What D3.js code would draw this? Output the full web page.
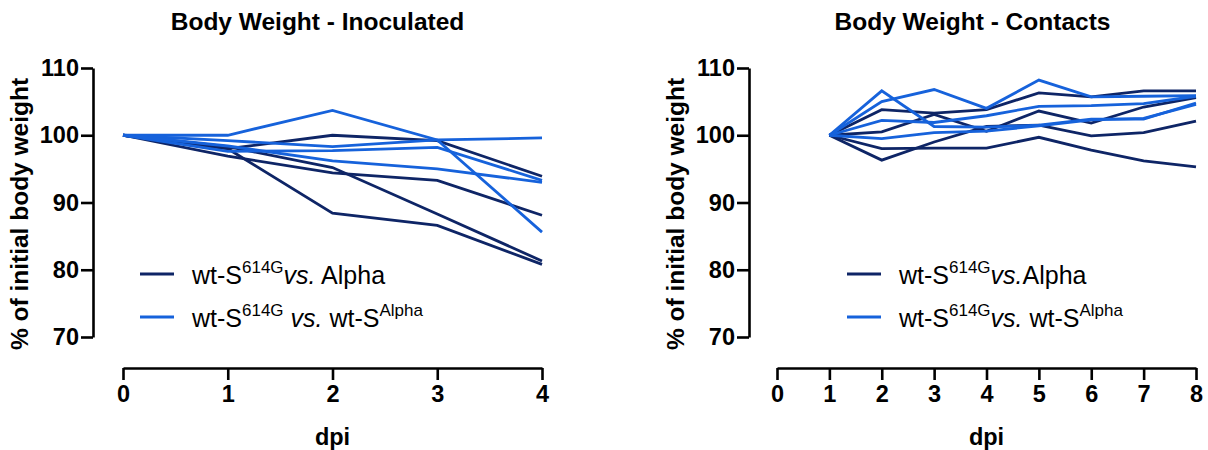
<!DOCTYPE html>
<html>
<head>
<meta charset="utf-8">
<script src="https://cdn.jsdelivr.net/npm/d3@7"></script>
<style>
  body { margin: 0; background: #fff; }
  text { font-family: "Liberation Sans", Arial, sans-serif; fill: #000; }
  .axis path, .axis line { stroke: #000; stroke-width: 2.6; }
  .axis text { font-size: 23.5px; font-weight: bold; }
</style>
</head>
<body>
<div id="chart"></div>
<script>
// Data (% of initial body weight)
const inocDays = [0, 1, 2, 3, 4];
const inocAlpha = [            // wt-S614G vs. Alpha
    [100, 98.0, 100.0, 99.2, 93.9],
    [100, 96.9, 94.4, 93.3, 88.1],
    [100, 98.3, 95.2, 88.3, 81.3],
    [100, 98.0, 88.4, 86.6, 80.8]
];
const inocWtAlpha = [          // wt-S614G vs. wt-SAlpha
    [100, 100.0, 103.7, 99.3, 85.6],
    [100, 99.2, 98.3, 99.3, 99.6],
    [100, 97.6, 97.7, 98.2, 93.3],
    [100, 98.4, 96.2, 95.0, 93.0]
];

const contDays = [1, 2, 3, 4, 5, 6, 7, 8];
const contAlpha = [
    [100, 103.8, 103.3, 103.8, 106.3, 105.7, 106.6, 106.6],
    [100, 100.5, 103.1, 100.6, 103.6, 101.8, 104.2, 105.6],
    [100, 96.3, 99.0, 101.3, 101.5, 99.9, 100.4, 102.1],
    [100, 98.0, 98.1, 98.1, 99.7, 97.8, 96.2, 95.3]
];
const contWtAlpha = [
    [100, 106.6, 101.3, 101.2, 101.5, 102.4, 102.4, 104.8],
    [100, 105.0, 106.8, 104.0, 108.2, 105.7, 105.8, 105.9],
    [100, 102.2, 101.9, 102.9, 104.3, 104.4, 104.7, 105.8],
    [100, 99.5, 100.4, 100.6, 101.4, 102.3, 102.5, 104.6]
];

const yTicks = [70, 80, 90, 100, 110];
const inocXTicks = [0, 1, 2, 3, 4];
const contXTicks = [0, 1, 2, 3, 4, 5, 6, 7, 8];

const darkBlue = "#0e2566";
const lightBlue = "#1662db";

const svg = d3.select("#chart").append("svg")
    .attr("width", 1208)
    .attr("height", 450);

function drawPanel(opts) {
    const g = svg.append("g");

    const x = d3.scaleLinear().domain(d3.extent(opts.xTicks)).range([opts.x0, opts.x1]);
    const y = d3.scaleLinear().domain([70, 110]).range([337, 68]);

    // y axis (offset Prism style)
    g.append("g")
        .attr("class", "axis")
        .attr("transform", `translate(${opts.yAxisX},0)`)
        .call(d3.axisLeft(y).tickValues(yTicks).tickSize(12).tickSizeOuter(0).tickPadding(2));

    // x axis below the plot
    g.append("g")
        .attr("class", "axis")
        .attr("transform", "translate(0,368)")
        .call(d3.axisBottom(x).tickValues(opts.xTicks).tickFormat(d3.format("d"))
            .tickSize(12).tickSizeOuter(0).tickPadding(5));

    const line = d3.line()
        .x((d, i) => x(opts.days[i]))
        .y(d => y(d));

    const groups = [
        { data: opts.dark, color: darkBlue },
        { data: opts.light, color: lightBlue }
    ];
    groups.forEach(gr => {
        g.selectAll(null)
            .data(gr.data)
            .enter().append("path")
            .attr("d", line)
            .attr("fill", "none")
            .attr("stroke", gr.color)
            .attr("stroke-width", 2.8)
            .attr("stroke-linejoin", "miter");
    });

    // title
    g.append("text")
        .attr("x", (opts.yAxisX + opts.x1) / 2)
        .attr("y", 30)
        .attr("text-anchor", "middle")
        .style("font-size", "24.5px")
        .style("font-weight", "bold")
        .text(opts.title);

    // axis titles
    g.append("text")
        .attr("transform", `translate(${opts.yLabelX},214) rotate(-90)`)
        .attr("text-anchor", "middle")
        .style("font-size", "24.5px")
        .style("font-weight", "bold")
        .text("% of initial body weight");

    g.append("text")
        .attr("x", (opts.x0 + opts.x1) / 2)
        .attr("y", 445)
        .attr("text-anchor", "middle")
        .style("font-size", "23.5px")
        .style("font-weight", "bold")
        .text("dpi");

    // legend
    const legend = [
        { color: darkBlue, parts: opts.legend1 },
        { color: lightBlue, parts: opts.legend2 }
    ];
    legend.forEach((item, i) => {
        const ly = 274 + i * 43;
        g.append("line")
            .attr("x1", opts.legendX).attr("x2", opts.legendX + 34)
            .attr("y1", ly).attr("y2", ly)
            .attr("stroke", item.color)
            .attr("stroke-width", 3);
        const t = g.append("text")
            .attr("x", opts.legendX + 52)
            .attr("y", ly + 10)
            .style("font-size", "25px");
        let shifted = false;
        item.parts.forEach(p => {
            const ts = t.append("tspan").text(p.t);
            if (p.sup) {
                ts.attr("dy", -11).style("font-size", "17px");
                shifted = true;
            } else if (shifted) {
                ts.attr("dy", 11);
                shifted = false;
            }
            if (p.it) ts.style("font-style", "italic");
        });
    });
}

drawPanel({
    title: "Body Weight - Inoculated",
    days: inocDays, dark: inocAlpha, light: inocWtAlpha,
    xTicks: inocXTicks, x0: 123, x1: 542, yAxisX: 93, yLabelX: 28,
    legendX: 140,
    legend1: [{ t: "wt-S" }, { t: "614G", sup: true }, { t: "vs.", it: true }, { t: " Alpha" }],
    legend2: [{ t: "wt-S" }, { t: "614G", sup: true }, { t: " " }, { t: "vs.", it: true }, { t: " wt-S" }, { t: "Alpha", sup: true }]
});

drawPanel({
    title: "Body Weight - Contacts",
    days: contDays, dark: contAlpha, light: contWtAlpha,
    xTicks: contXTicks, x0: 777, x1: 1196, yAxisX: 749, yLabelX: 684,
    legendX: 847,
    legend1: [{ t: "wt-S" }, { t: "614G", sup: true }, { t: "vs.", it: true }, { t: "Alpha" }],
    legend2: [{ t: "wt-S" }, { t: "614G", sup: true }, { t: "vs.", it: true }, { t: " wt-S" }, { t: "Alpha", sup: true }]
});
</script>
</body>
</html>
